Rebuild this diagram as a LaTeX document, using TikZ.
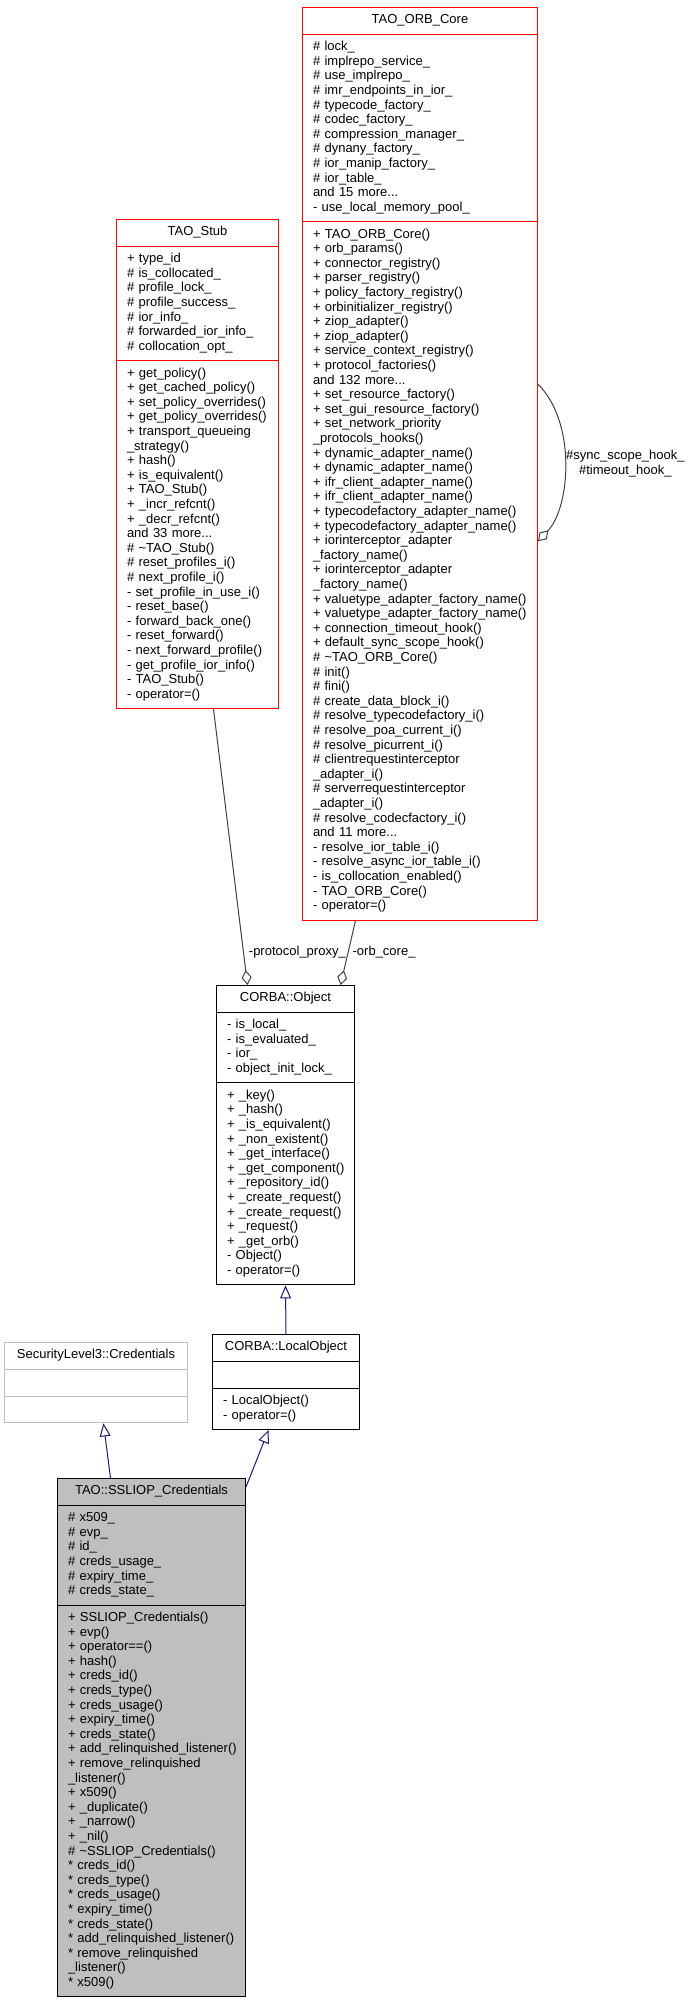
\documentclass[tikz,border=0pt]{standalone}
\usepackage{fontspec}
\setmainfont{Liberation Sans}
\usepackage{tikz}
\usetikzlibrary{shapes.multipart,arrows.meta}
\definecolor{edgegrey}{HTML}{404040}
\definecolor{inheritblue}{HTML}{191970}
\definecolor{extgrey}{HTML}{BFBFBF}
\newcommand{\dotfont}{\fontsize{13}{14.6}\selectfont}
\newcommand{\clsname}[1]{\makebox[\linewidth]{\strut #1}}

\begin{document}
\begin{tikzpicture}[x=1pt,y=-1pt]
    % `cls' is a class box: name, attributes and methods.
    % `tao' marks the TAO classes (red frame).
    % `aggr' is used for member edges (diamond), `inherit' for base classes.
    \tikzstyle{cls} = [draw,line width=1pt,fill=white,rectangle split,rectangle split parts=3,
      anchor=north west,inner xsep=10.5pt,inner ysep=5.6pt,align=left,font=\dotfont]
    \tikzstyle{tao} = [cls,draw=red]
    \tikzstyle{aggr} = [draw=edgegrey,line width=1pt,-{Diamond[open,length=15pt,width=10pt]}]
    \tikzstyle{inherit} = [draw=inheritblue,line width=1pt,-{Triangle[open,length=13pt,width=11pt]}]
    \tikzstyle{lbl} = [font=\dotfont,inner sep=1pt,text=black]
    \useasboundingbox (0,0) rectangle (691,2000);
    %
    \node[tao,text width=214pt] (orbcore) at (302,7) {\clsname{TAO\_ORB\_Core}
      \nodepart{two}\strut\#~lock\_\\
      \#~implrepo\_service\_\\
      \#~use\_implrepo\_\\
      \#~imr\_endpoints\_in\_ior\_\\
      \#~typecode\_factory\_\\
      \#~codec\_factory\_\\
      \#~compression\_manager\_\\
      \#~dynany\_factory\_\\
      \#~ior\_manip\_factory\_\\
      \#~ior\_table\_\\
      and 15 more...\\
      -~use\_local\_memory\_pool\_\strut
      \nodepart{three}\strut+~TAO\_ORB\_Core()\\
      +~orb\_params()\\
      +~connector\_registry()\\
      +~parser\_registry()\\
      +~policy\_factory\_registry()\\
      +~orbinitializer\_registry()\\
      +~ziop\_adapter()\\
      +~ziop\_adapter()\\
      +~service\_context\_registry()\\
      +~protocol\_factories()\\
      and 132 more...\\
      +~set\_resource\_factory()\\
      +~set\_gui\_resource\_factory()\\
      +~set\_network\_priority\\
      \_protocols\_hooks()\\
      +~dynamic\_adapter\_name()\\
      +~dynamic\_adapter\_name()\\
      +~ifr\_client\_adapter\_name()\\
      +~ifr\_client\_adapter\_name()\\
      +~typecodefactory\_adapter\_name()\\
      +~typecodefactory\_adapter\_name()\\
      +~iorinterceptor\_adapter\\
      \_factory\_name()\\
      +~iorinterceptor\_adapter\\
      \_factory\_name()\\
      +~valuetype\_adapter\_factory\_name()\\
      +~valuetype\_adapter\_factory\_name()\\
      +~connection\_timeout\_hook()\\
      +~default\_sync\_scope\_hook()\\
      \#~\textasciitilde TAO\_ORB\_Core()\\
      \#~init()\\
      \#~fini()\\
      \#~create\_data\_block\_i()\\
      \#~resolve\_typecodefactory\_i()\\
      \#~resolve\_poa\_current\_i()\\
      \#~resolve\_picurrent\_i()\\
      \#~clientrequestinterceptor\\
      \_adapter\_i()\\
      \#~serverrequestinterceptor\\
      \_adapter\_i()\\
      \#~resolve\_codecfactory\_i()\\
      and 11 more...\\
      -~resolve\_ior\_table\_i()\\
      -~resolve\_async\_ior\_table\_i()\\
      -~is\_collocation\_enabled()\\
      -~TAO\_ORB\_Core()\\
      -~operator=()\strut};

    \node[tao,text width=141pt] (stub) at (116,219) {\clsname{TAO\_Stub}
      \nodepart{two}\strut+~type\_id\\
      \#~is\_collocated\_\\
      \#~profile\_lock\_\\
      \#~profile\_success\_\\
      \#~ior\_info\_\\
      \#~forwarded\_ior\_info\_\\
      \#~collocation\_opt\_\strut
      \nodepart{three}\strut+~get\_policy()\\
      +~get\_cached\_policy()\\
      +~set\_policy\_overrides()\\
      +~get\_policy\_overrides()\\
      +~transport\_queueing\\
      \_strategy()\\
      +~hash()\\
      +~is\_equivalent()\\
      +~TAO\_Stub()\\
      +~\_incr\_refcnt()\\
      +~\_decr\_refcnt()\\
      and 33 more...\\
      \#~\textasciitilde TAO\_Stub()\\
      \#~reset\_profiles\_i()\\
      \#~next\_profile\_i()\\
      -~set\_profile\_in\_use\_i()\\
      -~reset\_base()\\
      -~forward\_back\_one()\\
      -~reset\_forward()\\
      -~next\_forward\_profile()\\
      -~get\_profile\_ior\_info()\\
      -~TAO\_Stub()\\
      -~operator=()\strut};

    \node[cls,text width=117pt] (object) at (216,985) {\clsname{CORBA::Object}
      \nodepart{two}\strut-~is\_local\_\\
      -~is\_evaluated\_\\
      -~ior\_\\
      -~object\_init\_lock\_\strut
      \nodepart{three}\strut+~\_key()\\
      +~\_hash()\\
      +~\_is\_equivalent()\\
      +~\_non\_existent()\\
      +~\_get\_interface()\\
      +~\_get\_component()\\
      +~\_repository\_id()\\
      +~\_create\_request()\\
      +~\_create\_request()\\
      +~\_request()\\
      +~\_get\_orb()\\
      -~Object()\\
      -~operator=()\strut};

    \node[cls,draw=extgrey,text width=162pt] (seccred) at (4,1342) {\clsname{SecurityLevel3::Credentials}
      \nodepart{two}\strut
      \nodepart{three}\strut};

    \node[cls,text width=126pt] (localobj) at (212,1334) {\clsname{CORBA::LocalObject}
      \nodepart{two}\strut
      \nodepart{three}\strut-~LocalObject()\\
      -~operator=()\strut};

    \node[cls,fill=extgrey,text width=167pt] (sslcred) at (57,1478) {\clsname{TAO::SSLIOP\_Credentials}
      \nodepart{two}\strut\#~x509\_\\
      \#~evp\_\\
      \#~id\_\\
      \#~creds\_usage\_\\
      \#~expiry\_time\_\\
      \#~creds\_state\_\strut
      \nodepart{three}\strut+~SSLIOP\_Credentials()\\
      +~evp()\\
      +~operator==()\\
      +~hash()\\
      +~creds\_id()\\
      +~creds\_type()\\
      +~creds\_usage()\\
      +~expiry\_time()\\
      +~creds\_state()\\
      +~add\_relinquished\_listener()\\
      +~remove\_relinquished\\
      \_listener()\\
      +~x509()\\
      +~\_duplicate()\\
      +~\_narrow()\\
      +~\_nil()\\
      \#~\textasciitilde SSLIOP\_Credentials()\\
      {*}~creds\_id()\\
      {*}~creds\_type()\\
      {*}~creds\_usage()\\
      {*}~expiry\_time()\\
      {*}~creds\_state()\\
      {*}~add\_relinquished\_listener()\\
      {*}~remove\_relinquished\\
      \_listener()\\
      {*}~x509()\strut};

    % Member edges.
    \draw[aggr] ([xshift=16pt]stub.south) -- ([xshift=-38pt]object.north)
      node[lbl,pos=0.88,anchor=west,xshift=4pt] {-protocol\_proxy\_};
    \draw[aggr] ([xshift=-64.5pt]orbcore.south) -- ([xshift=55pt]object.north)
      node[lbl,pos=0.49,anchor=west,xshift=3pt] {-orb\_core\_};
    \draw[aggr] ([yshift=79.5pt]orbcore.east) .. controls +(38,37) and +(33,-35) .. ([yshift=-77.5pt]orbcore.east)
      node[lbl,pos=0.5,anchor=west,align=center] {\#sync\_scope\_hook\_\\\#timeout\_hook\_};
    % Base classes.
    \draw[inherit] (localobj.north) -- (object.south);
    \draw[inherit] ([xshift=-41pt]sslcred.north) -- ([xshift=7.5pt]seccred.south);
    \draw[inherit] ([yshift=-9pt]sslcred.north east) -- ([xshift=-17.5pt]localobj.south);
\end{tikzpicture}
\end{document}
